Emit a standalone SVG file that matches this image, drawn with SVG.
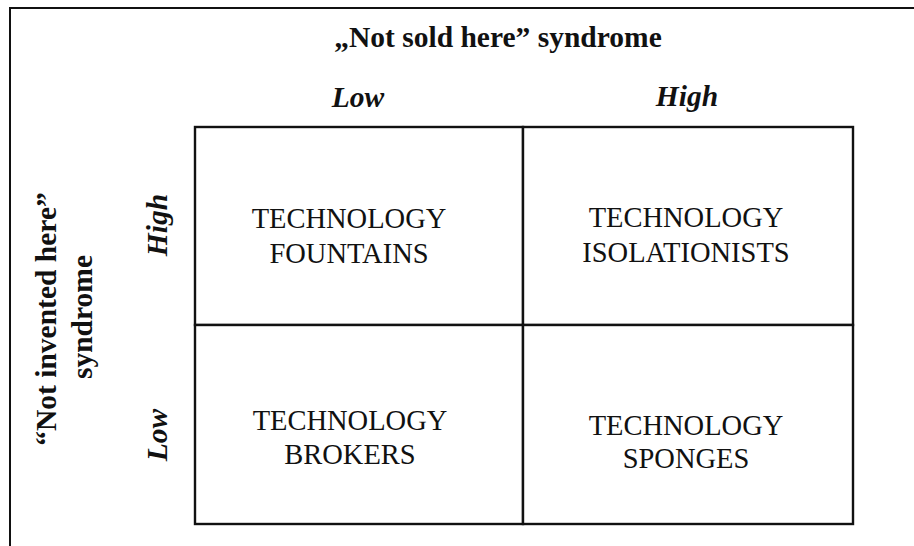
<svg xmlns="http://www.w3.org/2000/svg" width="914" height="546" viewBox="0 0 914 546">
  <style>
    .frame { fill: none; stroke: #111; stroke-width: 2; }
    .cell { fill: #fff; stroke: #111; stroke-width: 2.4; }
    .txt { font-family: "Liberation Serif", "Times New Roman", serif; fill: #111; text-anchor: middle; }
    .head { font-weight: bold; font-size: 29.5px; }
    .axis { font-weight: bold; font-style: italic; font-size: 29.5px; }
    .label { font-size: 28.5px; }
  </style>
  <rect width="914" height="546" fill="#fff"/>

  <!-- outer frame (top and left edges) -->
  <path class="frame" d="M10 546 V8 H914"/>

  <!-- axis titles -->
  <g id="axis-top">
    <text class="txt head" x="498" y="47">„Not sold here” syndrome</text>
    <text class="txt axis" x="358" y="107">Low</text>
    <text class="txt axis" x="687" y="106">High</text>
  </g>
  <g id="axis-left">
    <text class="txt head" transform="translate(56 319) rotate(-90)">“Not invented here”</text>
    <text class="txt head" transform="translate(92 317) rotate(-90)">syndrome</text>
    <text class="txt axis" transform="translate(167 225) rotate(-90)">High</text>
    <text class="txt axis" transform="translate(167 435) rotate(-90)">Low</text>
  </g>

  <!-- quadrants -->
  <g id="fountains">
    <rect class="cell" x="195" y="127" width="328" height="198"/>
    <text class="txt label" x="349" y="228">TECHNOLOGY</text>
    <text class="txt label" x="349" y="263">FOUNTAINS</text>
  </g>
  <g id="isolationists">
    <rect class="cell" x="523" y="127" width="330" height="198"/>
    <text class="txt label" x="686" y="227">TECHNOLOGY</text>
    <text class="txt label" x="686" y="262">ISOLATIONISTS</text>
  </g>
  <g id="brokers">
    <rect class="cell" x="195" y="325" width="328" height="199"/>
    <text class="txt label" x="350" y="430">TECHNOLOGY</text>
    <text class="txt label" x="350" y="464">BROKERS</text>
  </g>
  <g id="sponges">
    <rect class="cell" x="523" y="325" width="330" height="199"/>
    <text class="txt label" x="686" y="435">TECHNOLOGY</text>
    <text class="txt label" x="686" y="468">SPONGES</text>
  </g>

  <!-- no connectors in this matrix -->
  <g id="connectors"/>
</svg>
